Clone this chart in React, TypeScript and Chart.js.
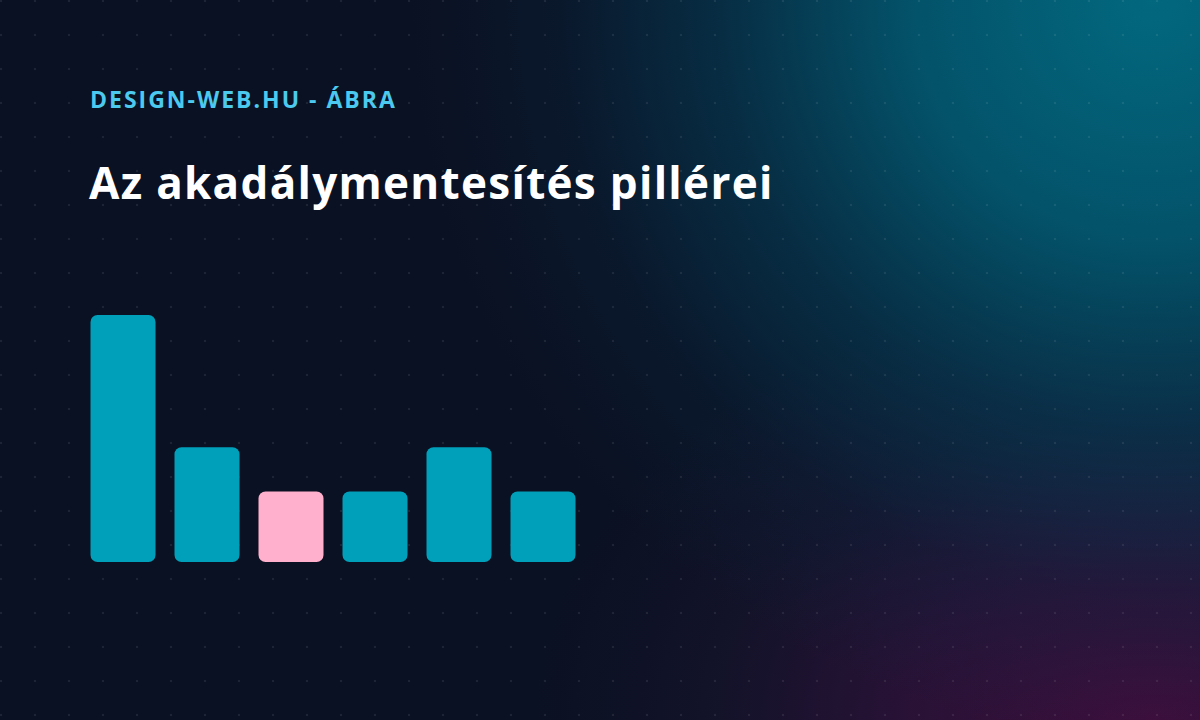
import { useEffect, useRef } from "react";
import { Chart, registerables } from "chart.js";

Chart.register(...registerables);

// the six pillars (labels are not shown on the figure)
const pillars = [
  "Észlelhetőség",
  "Kezelhetőség",
  "Érthetőség",
  "Robusztusság",
  "Tartalom",
  "Tesztelés",
];
const pillarValues = [7, 3.25, 2, 2, 3.25, 2];
const highlightIndex = 2;

const TEAL = "#00a0ba";
const PINK = "#ffb0cc";

const App = () => {
  const chartRef = useRef<Chart | null>(null);
  const chartCanvas = useRef<HTMLCanvasElement | null>(null);

  useEffect(() => {
    if (chartRef.current) {
      chartRef.current.destroy();
    }
    const context = chartCanvas.current?.getContext("2d");
    if (context) {
      chartRef.current = new Chart(context, {
        type: "bar",
        data: {
          labels: pillars,
          datasets: [
            {
              data: pillarValues,
              backgroundColor: pillarValues.map((_, i) =>
                i === highlightIndex ? PINK : TEAL
              ),
              borderRadius: 7,
              borderSkipped: false,
              barPercentage: 65 / 84,
              categoryPercentage: 1,
            },
          ],
        },
        options: {
          animation: false,
          responsive: true,
          maintainAspectRatio: false,
          layout: { padding: 0 },
          plugins: {
            legend: { display: false },
            tooltip: { enabled: false },
          },
          scales: {
            x: { display: false },
            y: { display: false, min: 0, max: 7 },
          },
        },
      });
    }
    return () => {
      if (chartRef.current) {
        chartRef.current.destroy();
        chartRef.current = null;
      }
    };
  }, []);

  return (
    <div
      style={{
        position: "fixed",
        left: 0,
        top: 0,
        width: 1200,
        height: 720,
        overflow: "hidden",
        backgroundColor: "#0a1122",
        backgroundImage: [
          "radial-gradient(circle, rgba(255,255,255,0.08) 1px, transparent 1.6px)",
          "radial-gradient(ellipse 740px 740px at 96% 0%, rgba(2,104,126,1), rgba(2,92,116,0.88) 32%, rgba(5,64,90,0.6) 58%, rgba(10,40,66,0.3) 80%, transparent 100%)",
          "radial-gradient(ellipse 620px 440px at 96% 100%, rgba(62,14,60,1), rgba(50,18,60,0.75) 40%, rgba(35,22,55,0.35) 70%, transparent 100%)",
        ].join(", "),
        backgroundSize: "34px 34px, 100% 100%, 100% 100%",
        backgroundPosition: "-16px -16px, 0 0, 0 0",
        fontFamily: "'Open Sans', 'Noto Sans', sans-serif",
      }}
    >
      <div
        style={{
          position: "absolute",
          left: 90,
          top: 83,
          fontSize: 23,
          fontWeight: 700,
          color: "#4cc9ee",
          letterSpacing: 2,
          whiteSpace: "nowrap",
        }}
      >
        DESIGN-WEB.HU - ÁBRA
      </div>
      <div
        style={{
          position: "absolute",
          left: 89,
          top: 152,
          fontSize: 44,
          fontWeight: 700,
          color: "#ffffff",
          letterSpacing: 1.3,
          whiteSpace: "nowrap",
        }}
      >
        Az akadálymentesítés pillérei
      </div>
      <div
        style={{
          position: "absolute",
          left: 81,
          top: 315,
          width: 504,
          height: 247,
        }}
      >
        <canvas ref={chartCanvas}></canvas>
      </div>
    </div>
  );
};

export default App;
